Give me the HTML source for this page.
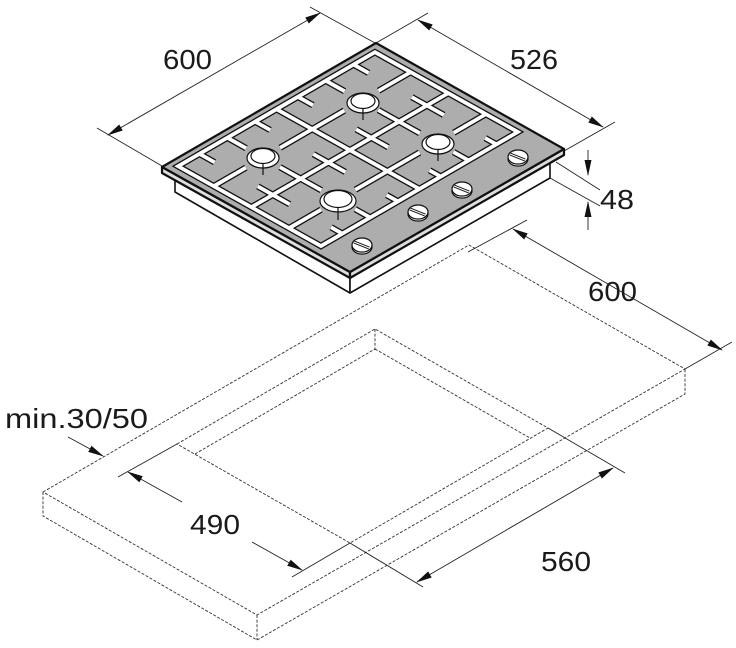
<!DOCTYPE html>
<html><head><meta charset="utf-8"><style>
html,body{margin:0;padding:0;background:#fff;}
svg{display:block;}
text{font-family:"Liberation Sans",sans-serif;font-size:28px;fill:#1a1a1a;}
</style></head><body>
<svg width="736" height="648" viewBox="0 0 736 648" xmlns="http://www.w3.org/2000/svg">
<defs>
<marker id="ar" markerUnits="userSpaceOnUse" markerWidth="16" markerHeight="8" refX="15" refY="4" orient="auto-start-reverse" viewBox="0 0 16 8">
<path d="M0,0.5 L16,4 L0,7.5 Z" fill="#111"/>
</marker>
</defs>

<g fill="none" stroke="#333" stroke-width="0.9" stroke-dasharray="3 1.6">
<path d="M43,492 L469,245 L685,369 L257,615 Z"/>
<path d="M43,492 L43,516 L257,640 L685,394 L685,369 M257,615 L257,640"/>
<path d="M177,444 L375,329 L548,428 L350,543 Z"/>
<path d="M375,329 L375,349 L195,454 M375,349 L530,438"/>
</g>

<g fill="none" stroke="#222" stroke-width="0.9">
<path d="M97,128 L162,166 M310,7 L375,43"/>
<path d="M108,135 L320,13" marker-start="url(#ar)" marker-end="url(#ar)"/>
<path d="M428,13 L376,43 M615,122 L564,151"/>
<path d="M418,20 L603,127" marker-start="url(#ar)" marker-end="url(#ar)"/>
<path d="M556,162 L600,190 M550,178 L600,206"/>
<path d="M588,150 L588,175" marker-end="url(#ar)"/>
<path d="M588,230 L588,202" marker-end="url(#ar)"/>
<path d="M468,252 L527,220 M685,369 L732,342"/>
<path d="M513,229 L722,350" marker-start="url(#ar)" marker-end="url(#ar)"/>
<path d="M68,437 L103,456" marker-end="url(#ar)"/>
<path d="M118,477 L177,444 M292,577 L350,543"/>
<path d="M182,502 L128,472" marker-end="url(#ar)"/>
<path d="M252,542 L302,570" marker-end="url(#ar)"/>
<path d="M548,428 L625,473 M350,543 L423,587"/>
<path d="M417,582 L613,468" marker-start="url(#ar)" marker-end="url(#ar)"/>
</g>

<g stroke="#111" stroke-width="1.6" stroke-linejoin="round" fill="#fff">
<path d="M175,176 L350,278 L350,293 L175,192 Z"/>
<path d="M350,278 L550,163 L550,178 L350,293 Z"/>
</g>
<g stroke="#111" stroke-width="2.2" stroke-linejoin="round">
<path d="M162,167 L350,272 L350,278 L162,173 Z" fill="#ddd"/>
<path d="M350,272 L564,149 L564,155 L350,278 Z" fill="#ddd"/>
<path d="M162,167 L376,43 L564,149 L350,272 Z" fill="#adadad"/>
</g>

<g transform="matrix(188,105,214,-124,162,167)" fill="none">
<path d="M0.04,0.04 L0.80,0.04 L0.80,0.96 L0.04,0.96 Z M0.43,0.04 L0.43,0.96 M0.04,0.5 L0.80,0.5
M0.04,0.27 L0.14,0.27 M0.32,0.27 L0.43,0.27 M0.23,0.04 L0.23,0.19 M0.23,0.35 L0.23,0.5
M0.04,0.14 L0.12,0.14 M0.04,0.40 L0.12,0.40 M0.43,0.14 L0.35,0.14 M0.43,0.40 L0.35,0.40
M0.04,0.73 L0.14,0.73 M0.32,0.73 L0.43,0.73 M0.23,0.5 L0.23,0.65 M0.23,0.81 L0.23,0.96
M0.04,0.60 L0.12,0.60 M0.04,0.86 L0.12,0.86 M0.43,0.60 L0.35,0.60 M0.43,0.86 L0.35,0.86
M0.43,0.73 L0.54,0.73 M0.72,0.73 L0.80,0.73 M0.63,0.5 L0.63,0.65 M0.63,0.81 L0.63,0.96
M0.43,0.60 L0.52,0.60 M0.43,0.86 L0.52,0.86 M0.80,0.60 L0.74,0.60 M0.80,0.86 L0.74,0.86
M0.43,0.27 L0.54,0.27 M0.72,0.27 L0.80,0.27 M0.63,0.04 L0.63,0.19 M0.63,0.35 L0.63,0.5
M0.43,0.14 L0.52,0.14 M0.43,0.40 L0.52,0.40 M0.80,0.14 L0.74,0.14 M0.80,0.40 L0.74,0.40"
 stroke="#111" stroke-width="6.4" vector-effect="non-scaling-stroke"/>
<path d="M0.04,0.04 L0.80,0.04 L0.80,0.96 L0.04,0.96 Z M0.43,0.04 L0.43,0.96 M0.04,0.5 L0.80,0.5
M0.04,0.27 L0.14,0.27 M0.32,0.27 L0.43,0.27 M0.23,0.04 L0.23,0.19 M0.23,0.35 L0.23,0.5
M0.04,0.14 L0.12,0.14 M0.04,0.40 L0.12,0.40 M0.43,0.14 L0.35,0.14 M0.43,0.40 L0.35,0.40
M0.04,0.73 L0.14,0.73 M0.32,0.73 L0.43,0.73 M0.23,0.5 L0.23,0.65 M0.23,0.81 L0.23,0.96
M0.04,0.60 L0.12,0.60 M0.04,0.86 L0.12,0.86 M0.43,0.60 L0.35,0.60 M0.43,0.86 L0.35,0.86
M0.43,0.73 L0.54,0.73 M0.72,0.73 L0.80,0.73 M0.63,0.5 L0.63,0.65 M0.63,0.81 L0.63,0.96
M0.43,0.60 L0.52,0.60 M0.43,0.86 L0.52,0.86 M0.80,0.60 L0.74,0.60 M0.80,0.86 L0.74,0.86
M0.43,0.27 L0.54,0.27 M0.72,0.27 L0.80,0.27 M0.63,0.04 L0.63,0.19 M0.63,0.35 L0.63,0.5
M0.43,0.14 L0.52,0.14 M0.43,0.40 L0.52,0.40 M0.80,0.14 L0.74,0.14 M0.80,0.40 L0.74,0.40"
 stroke="#fff" stroke-width="3.8" vector-effect="non-scaling-stroke"/>
</g>

<g stroke="#111" stroke-width="1.2" fill="#fff">
<g transform="translate(263,157)"><ellipse cx="0" cy="1" rx="16" ry="10"/><ellipse cx="0" cy="-1" rx="12" ry="7.5"/><path d="M0,7 L0,18" fill="none"/></g>
<g transform="translate(363,102)"><ellipse cx="0" cy="1" rx="16" ry="10"/><ellipse cx="0" cy="-1" rx="12" ry="7.5"/><path d="M0,7 L0,18" fill="none"/></g>
<g transform="translate(438,143)"><ellipse cx="0" cy="1" rx="16" ry="10"/><ellipse cx="0" cy="-1" rx="12" ry="7.5"/><path d="M0,7 L0,18" fill="none"/></g>
<g transform="translate(338,200)"><ellipse cx="0" cy="1" rx="18" ry="11"/><ellipse cx="0" cy="-1" rx="14" ry="8.5"/><path d="M0,8 L0,20" fill="none"/></g>
</g>

<g stroke="#111" stroke-width="1.2" fill="#fff">
<g transform="translate(518,157)"><ellipse rx="10" ry="7" cy="2"/><ellipse rx="10" ry="7"/><path d="M-8,-3 L7,3" stroke-width="3"/><path d="M-8,-3 L7,3" stroke="#fff" stroke-width="1.2"/></g>
<g transform="translate(462,189)"><ellipse rx="10" ry="7" cy="2"/><ellipse rx="10" ry="7"/><path d="M-8,-3 L7,3" stroke-width="3"/><path d="M-8,-3 L7,3" stroke="#fff" stroke-width="1.2"/></g>
<g transform="translate(418,212)"><ellipse rx="10" ry="7" cy="2"/><ellipse rx="10" ry="7"/><path d="M-8,-3 L7,3" stroke-width="3"/><path d="M-8,-3 L7,3" stroke="#fff" stroke-width="1.2"/></g>
<g transform="translate(362,245)"><ellipse rx="10" ry="7" cy="2"/><ellipse rx="10" ry="7"/><path d="M-8,-3 L7,3" stroke-width="3"/><path d="M-8,-3 L7,3" stroke="#fff" stroke-width="1.2"/></g>
</g>

<text x="163" y="69" textLength="49" lengthAdjust="spacingAndGlyphs">600</text>
<text x="510" y="69" textLength="48" lengthAdjust="spacingAndGlyphs">526</text>
<text x="600" y="209" textLength="34" lengthAdjust="spacingAndGlyphs">48</text>
<text x="588" y="301" textLength="49" lengthAdjust="spacingAndGlyphs">600</text>
<text x="5" y="428" textLength="143" lengthAdjust="spacingAndGlyphs">min.30/50</text>
<text x="190" y="534" textLength="50" lengthAdjust="spacingAndGlyphs">490</text>
<text x="541" y="571" textLength="50" lengthAdjust="spacingAndGlyphs">560</text>
</svg>
</body></html>
